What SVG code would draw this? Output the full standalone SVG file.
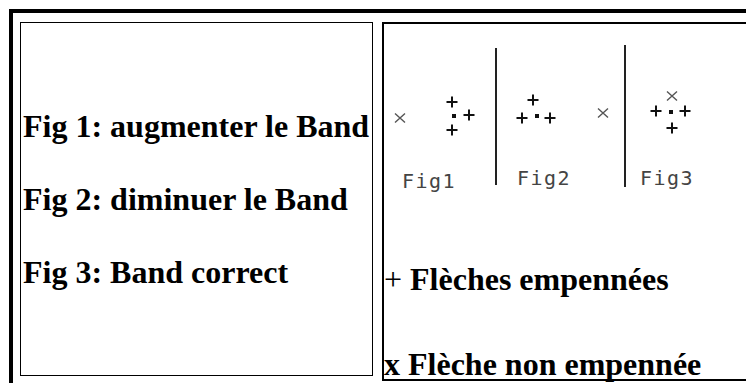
<svg xmlns="http://www.w3.org/2000/svg" width="746" height="383" viewBox="0 0 746 383">
<style>
.cap{font-family:"Liberation Serif","Times New Roman",serif;font-size:32px;font-weight:bold;fill:#000}
.thin{font-weight:normal}
.fig{font-family:"DejaVu Sans Mono","Liberation Mono",monospace;font-size:20px;fill:#444;letter-spacing:1.5px}
.plus{stroke:#111;stroke-width:2;fill:none}
.cross{stroke:#555;stroke-width:1.4;fill:none}
.sep{stroke:#222;stroke-width:2}
.cell{fill:#fff;stroke:#000}
</style>
<defs>
<g id="p"><path class="plus" d="M-5.5 0H5.5M0 -5.5V5.5"/></g>
<g id="x"><path class="cross" d="M-5 -4.5L5 4.5M5 -4.5L-5 4.5"/></g>
<rect id="sq" x="-2" y="-2" width="4" height="4" fill="#111"/>
</defs>
<rect width="746" height="383" fill="#fff"/>
<g id="frame">
<rect x="9" y="9" width="737" height="4" fill="#000"/>
<rect x="9" y="9" width="4" height="374" fill="#000"/>
</g>
<g id="left-cell">
<rect class="cell" x="20.5" y="22.5" width="352" height="353" stroke-width="1"/>
<text class="cap" x="23" y="137">Fig 1: augmenter le Band</text>
<text class="cap" x="23" y="210">Fig 2: diminuer le Band</text>
<text class="cap" x="23" y="283">Fig 3: Band correct</text>
</g>
<g id="right-cell">
<rect class="cell" x="383" y="23" width="400" height="357" stroke-width="2"/>
<g id="fig1">
<use href="#x" x="400" y="118"/>
<use href="#p" x="452" y="102"/>
<use href="#sq" x="454" y="116"/>
<use href="#p" x="469" y="115"/>
<use href="#p" x="452" y="130"/>
<text class="fig" x="402" y="188">Fig1</text>
</g>
<line class="sep" x1="496" y1="48" x2="496" y2="185"/>
<g id="fig2">
<use href="#p" x="533" y="100"/>
<use href="#p" x="522" y="118"/>
<use href="#sq" x="537" y="116"/>
<use href="#p" x="550" y="118"/>
<use href="#x" x="603" y="113"/>
<text class="fig" x="517" y="185">Fig2</text>
</g>
<line class="sep" x1="625" y1="45" x2="625" y2="187"/>
<g id="fig3">
<use href="#x" x="672" y="96"/>
<use href="#p" x="656" y="111"/>
<use href="#sq" x="671" y="112"/>
<use href="#p" x="685" y="111"/>
<use href="#p" x="672" y="128"/>
<text class="fig" x="640" y="185">Fig3</text>
</g>
<text class="cap" x="384" y="290"><tspan class="thin">+</tspan> Flèches empennées</text>
<text class="cap" x="384" y="375">x Flèche non empennée</text>
</g>
</svg>
